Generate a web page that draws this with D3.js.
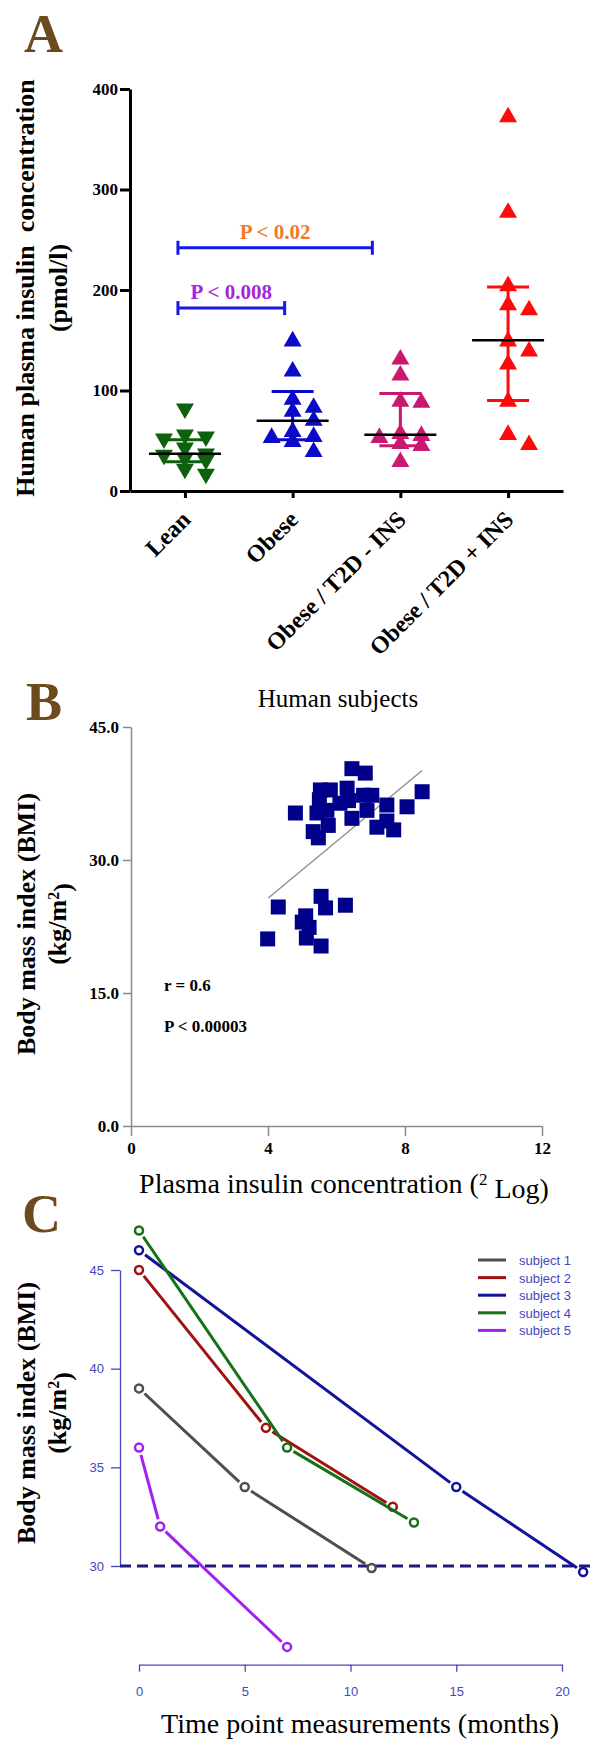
<!DOCTYPE html>
<html>
  <head>
    <meta charset="utf-8" />
    <title>Insulin and BMI</title>
    <script src="https://d3js.org/d3.v7.min.js"></script>
    <style>
        body { margin: 0; background: #fff; }
    </style>
  </head>
  <body>
    <svg id="fig"></svg>

    <script>
        // ---------- panel A data ----------
        var groupsA = ["Lean", "Obese", "Obese / T2D - INS", "Obese / T2D + INS"];
        var leanVals = [82, 56, 54, 52, 43, 37, 36, 33, 31, 22, 17];
        var obeseVals = [149, 119, 91, 83, 79, 70, 59, 54, 53, 49, 39];
        var t2dNoInsVals = [131, 115, 89, 88, 57, 55, 53, 47, 45, 29];
        var t2dInsVals = [372, 277, 204, 185, 180, 149, 139, 126, 89, 56, 46];
        var mediansA = [37, 70, 56, 150];
        var lowerA = [29, 51, 45, 90];
        var upperA = [51, 99, 97, 203];
        var ticksA = [0, 100, 200, 300, 400];
        var colorsA = ["#0d610d", "#0a0ac8", "#c81870", "#ff0a0a"];
        var bracketsA = [
            {from: 0, to: 1, value: 182, label: "P < 0.008", color: "#a424e0"},
            {from: 0, to: 2, value: 242, label: "P < 0.02", color: "#f07a2a"}
        ];

        // ---------- panel B data ----------
        var insulinLog = [4.8, 5.53, 5.82, 5.43, 5.32, 5.47, 5.76, 5.72, 6.45, 6.84, 6.31, 6.35, 6.45, 6.79,
                          7.03, 6.89, 7.47, 7.47, 7.18, 7.67, 8.06, 8.5, 5.5, 6.1,
                          3.99, 4.3, 5.0, 5.1, 5.12, 5.55, 5.68, 5.55, 6.26, 5.2];
        var bmiB = [35.3, 37.9, 37.9, 35.3, 33.2, 32.5, 33.9, 35.6, 40.3, 39.8, 38.1, 36.7, 34.7, 37.3,
                    37.3, 35.6, 36.2, 34.4, 33.7, 33.4, 36.0, 37.7, 36.8, 36.4,
                    21.1, 24.7, 23.0, 23.7, 21.2, 25.9, 24.6, 20.3, 24.9, 22.4];
        var regX = [4.0, 8.5];
        var regY = [25.7, 40.1];
        var ticksBx = [0, 4, 8, 12];
        var ticksBy = [0, 15, 30, 45];

        // ---------- panel C data ----------
        var subjects = ["subject 1", "subject 2", "subject 3", "subject 4", "subject 5"];
        var monthsC = [[0, 5, 11], [0, 6, 12], [0, 15, 21], [0, 7, 13], [0, 1, 7]];
        var bmiC = [[39, 34, 29.9], [45, 37, 33], [46, 34, 29.7], [47, 36, 32.2], [36, 32, 25.9]];
        var colorsC = ["#4e4e4e", "#a01212", "#12129a", "#15701a", "#a020f0"];
        var ticksCx = [0, 5, 10, 15, 20];
        var ticksCy = [30, 35, 40, 45];
        var thresholdC = 30;

        var width = 590, height = 1739;
        var serif = "'Liberation Serif', 'DejaVu Serif', serif";
        var sans = "'Liberation Sans', Arial, sans-serif";
        var brown = "#6b4a1e";
        var axisBlue = "#4646c0";

        var svg = d3.select("#fig").attr("width", width).attr("height", height)
            .style("font-family", serif);
        svg.append("rect").attr("width", width).attr("height", height).attr("fill", "#fff");

        function panelLetter(t, x, y) {
            svg.append("text").attr("x", x).attr("y", y).text(t)
                .attr("font-size", 54).attr("font-weight", "bold").attr("fill", brown);
        }

        // two line rotated y title, second line may carry a superscript
        function yTitle(cx, cy, line1, line2a, sup, line2b) {
            var g = svg.append("g").attr("transform", "translate(0," + cy + ")");
            g.append("text").attr("transform", "translate(" + cx[0] + ",0) rotate(-90)")
                .attr("text-anchor", "middle").attr("font-size", 26).attr("font-weight", "bold")
                .style("white-space", "pre")
                .text(line1);
            var t = g.append("text").attr("transform", "translate(" + cx[1] + ",0) rotate(-90)")
                .attr("text-anchor", "middle").attr("font-size", 26).attr("font-weight", "bold");
            t.append("tspan").text(line2a);
            if (sup) {
                t.append("tspan").attr("dy", "-0.45em").attr("font-size", 16).text(sup);
                t.append("tspan").attr("dy", "0.45em").text(line2b);
            }
        }

        // ================= PANEL A =================
        panelLetter("A", 24, 52);

        var xA = d3.scalePoint().domain(groupsA).range([130, 563]).padding(0.51);
        var yA = d3.scaleLinear().domain([0, 400]).range([491, 89]);

        var gA = svg.append("g");

        var yAxisA = gA.append("g").attr("transform", "translate(130,0)")
            .call(d3.axisLeft(yA).tickValues(ticksA).tickSize(10).tickSizeOuter(0).tickPadding(2));
        yAxisA.select(".domain").attr("stroke-width", 3);
        yAxisA.selectAll(".tick line").attr("stroke-width", 3);
        yAxisA.selectAll(".tick text").attr("font-size", 17).attr("font-weight", "bold")
            .style("font-family", serif);

        var xAxisA = gA.append("g").attr("transform", "translate(0,491)")
            .call(d3.axisBottom(xA).tickSize(7).tickSizeOuter(0));
        xAxisA.select(".domain").attr("stroke-width", 3);
        xAxisA.selectAll(".tick line").attr("stroke-width", 3);
        xAxisA.selectAll(".tick text").remove();

        gA.selectAll(".xlab").data(groupsA).enter().append("text")
            .attr("class", "xlab")
            .attr("transform", function(d) {
                return "translate(" + (xA(d) + 7) + ",521) rotate(-45)";
            })
            .attr("text-anchor", "end").attr("font-size", 24).attr("font-weight", "bold")
            .text(function(d) { return d; });

        yTitle([34, 67], 288, "Human plasma insulin  concentration", "(pmol/l)");

        // column scatter offsets, a small beeswarm
        function swarm(vals, step) {
            var placed = [], off = [];
            var order = d3.range(vals.length).sort(function(a, b) { return vals[b] - vals[a]; });
            order.forEach(function(i) {
                var py = yA(vals[i]);
                var cands = [0, step, -step];
                var best = 0, bestGap = -1;
                for (var k = 0; k < cands.length; k++) {
                    var o = cands[k];
                    var gap = d3.min(placed.filter(function(p) { return p.x === o; }),
                        function(p) { return Math.abs(p.y - py); });
                    if (gap === undefined) gap = 1e9;
                    if (gap >= 11) { best = o; bestGap = gap; break; }
                    if (gap > bestGap) { bestGap = gap; best = o; }
                }
                off[i] = best;
                placed.push({x: best, y: py});
            });
            return off;
        }

        var valsA = [leanVals, obeseVals, t2dNoInsVals, t2dInsVals];
        var tri = d3.symbol().type(d3.symbolTriangle).size(140);

        valsA.forEach(function(vals, gi) {
            var cx = xA(groupsA[gi]);
            var off = swarm(vals, 21);
            var col = colorsA[gi];
            // error bar (interquartile range)
            var eb = gA.append("g").attr("stroke", col).attr("stroke-width", 3);
            eb.append("line").attr("x1", cx).attr("x2", cx)
                .attr("y1", yA(upperA[gi])).attr("y2", yA(lowerA[gi]));
            [upperA[gi], lowerA[gi]].forEach(function(v) {
                eb.append("line").attr("x1", cx - 21).attr("x2", cx + 21)
                    .attr("y1", yA(v)).attr("y2", yA(v));
            });
            gA.selectAll(".pt" + gi).data(vals).enter().append("path")
                .attr("class", "pt" + gi)
                .attr("d", tri)
                .attr("fill", col)
                .attr("transform", function(d, i) {
                    var t = "translate(" + (cx + off[i]) + "," + yA(d) + ")";
                    return gi === 0 ? t + " rotate(180)" : t;
                });
            // median
            gA.append("line").attr("x1", cx - 36).attr("x2", cx + 36)
                .attr("y1", yA(mediansA[gi])).attr("y2", yA(mediansA[gi]))
                .attr("stroke", "#000").attr("stroke-width", 2.5);
        });

        bracketsA.forEach(function(b, i) {
            var x1 = xA(groupsA[b.from]) - 7;
            var x2 = xA(groupsA[b.to]) - (i === 0 ? 8 : 28);
            var y = yA(b.value);
            var g = gA.append("g").attr("stroke", "#1616ee").attr("stroke-width", 3);
            g.append("line").attr("x1", x1).attr("x2", x2).attr("y1", y).attr("y2", y);
            g.append("line").attr("x1", x1).attr("x2", x1).attr("y1", y - 7).attr("y2", y + 7);
            g.append("line").attr("x1", x2).attr("x2", x2).attr("y1", y - 7).attr("y2", y + 7);
            gA.append("text").attr("x", (x1 + x2) / 2).attr("y", y - 9)
                .attr("text-anchor", "middle").attr("font-size", 21).attr("font-weight", "bold")
                .attr("fill", b.color).text(b.label);
        });

        // ================= PANEL B =================
        panelLetter("B", 26, 720);

        svg.append("text").attr("x", 338).attr("y", 707).attr("text-anchor", "middle")
            .attr("font-size", 25).text("Human subjects");

        var xB = d3.scaleLinear().domain([0, 12]).range([131, 542]);
        var yB = d3.scaleLinear().domain([0, 45]).range([1126, 727]);
        var gB = svg.append("g");

        var yAxisB = gB.append("g").attr("transform", "translate(131,0)")
            .call(d3.axisLeft(yB).tickValues(ticksBy).tickSize(8).tickSizeOuter(0).tickPadding(4)
                .tickFormat(d3.format(".1f")));
        var xAxisB = gB.append("g").attr("transform", "translate(0,1126)")
            .call(d3.axisBottom(xB).tickValues(ticksBx).tickSize(10).tickSizeOuter(0).tickPadding(6));
        [yAxisB, xAxisB].forEach(function(a) {
            a.select(".domain").attr("stroke", "#8a8a8a").attr("stroke-width", 1.5);
            a.selectAll(".tick line").attr("stroke", "#8a8a8a").attr("stroke-width", 1.5);
            a.selectAll(".tick text").attr("font-size", 17).attr("font-weight", "bold")
                .style("font-family", serif);
        });

        gB.append("line")
            .attr("x1", xB(regX[0])).attr("y1", yB(regY[0]))
            .attr("x2", xB(regX[1])).attr("y2", yB(regY[1]))
            .attr("stroke", "#8c8c8c").attr("stroke-width", 1.3);

        var sq = d3.symbol().type(d3.symbolSquare).size(15 * 15);
        gB.selectAll(".sq").data(insulinLog).enter().append("path")
            .attr("class", "sq").attr("d", sq).attr("fill", "#00008a")
            .attr("transform", function(d, i) {
                return "translate(" + xB(d) + "," + yB(bmiB[i]) + ")";
            });

        gB.append("text").attr("x", 164).attr("y", 991).attr("font-size", 17).attr("font-weight", "bold")
            .text("r = 0.6");
        gB.append("text").attr("x", 164).attr("y", 1032).attr("font-size", 17).attr("font-weight", "bold")
            .text("P < 0.00003");

        yTitle([35, 66], 924, "Body mass index (BMI)", "(kg/m", "2", ")");

        var xtB = svg.append("text").attr("x", 344).attr("y", 1193).attr("text-anchor", "middle")
            .attr("font-size", 28);
        xtB.append("tspan").text("Plasma insulin concentration (");
        xtB.append("tspan").attr("dy", "-0.45em").attr("font-size", 17).text("2");
        xtB.append("tspan").attr("dy", "0.45em").text(" Log)");

        // ================= PANEL C =================
        panelLetter("C", 22, 1232);

        var xC = d3.scaleLinear().domain([0, 20]).range([139, 562]);
        var yC = d3.scaleLinear().domain([30, 45]).range([1566, 1270]);
        var gC = svg.append("g");

        var yAxisC = gC.append("g").attr("transform", "translate(120,0)")
            .call(d3.axisLeft(yC).tickValues(ticksCy).tickSize(9).tickSizeOuter(0).tickPadding(7));
        var xAxisC = gC.append("g").attr("transform", "translate(0," + yC(25) + ")")
            .call(d3.axisBottom(xC).tickValues(ticksCx).tickSize(7).tickSizeOuter(0).tickPadding(15));
        [yAxisC, xAxisC].forEach(function(a) {
            a.select(".domain").attr("stroke", axisBlue).attr("stroke-width", 1.3);
            a.selectAll(".tick line").attr("stroke", axisBlue).attr("stroke-width", 1.3);
            a.selectAll(".tick text").attr("font-size", 13).attr("fill", axisBlue)
                .style("font-family", sans);
        });

        gC.append("line").attr("x1", 120).attr("x2", 590)
            .attr("y1", yC(thresholdC)).attr("y2", yC(thresholdC))
            .attr("stroke", "#1c1c7c").attr("stroke-width", 3).attr("stroke-dasharray", "11,6");

        subjects.forEach(function(s, si) {
            var pts = monthsC[si].map(function(m, i) { return [xC(m), yC(bmiC[si][i])]; });
            var col = colorsC[si];
            for (var i = 0; i < pts.length - 1; i++) {
                var a = pts[i], b = pts[i + 1];
                var dx = b[0] - a[0], dy = b[1] - a[1], len = Math.sqrt(dx * dx + dy * dy);
                var gap = 7.5;
                gC.append("line")
                    .attr("x1", a[0] + dx / len * gap).attr("y1", a[1] + dy / len * gap)
                    .attr("x2", b[0] - dx / len * gap).attr("y2", b[1] - dy / len * gap)
                    .attr("stroke", col).attr("stroke-width", 3);
            }
            gC.selectAll(".c" + si).data(pts).enter().append("circle")
                .attr("class", "c" + si)
                .attr("cx", function(d) { return d[0]; }).attr("cy", function(d) { return d[1]; })
                .attr("r", 4).attr("fill", "none").attr("stroke", col).attr("stroke-width", 2.5);
        });

        var leg = gC.append("g").attr("transform", "translate(478,1260)");
        subjects.forEach(function(s, i) {
            leg.append("line").attr("x1", 0).attr("x2", 28).attr("y1", i * 17.6).attr("y2", i * 17.6)
                .attr("stroke", colorsC[i]).attr("stroke-width", 3);
            leg.append("text").attr("x", 41).attr("y", i * 17.6 + 5).attr("font-size", 13)
                .style("font-family", sans).attr("fill", axisBlue).text(s);
        });

        yTitle([35, 66], 1413, "Body mass index (BMI)", "(kg/m", "2", ")");

        svg.append("text").attr("x", 360).attr("y", 1733).attr("text-anchor", "middle")
            .attr("font-size", 28).text("Time point measurements (months)");
    </script>
  </body>
</html>
